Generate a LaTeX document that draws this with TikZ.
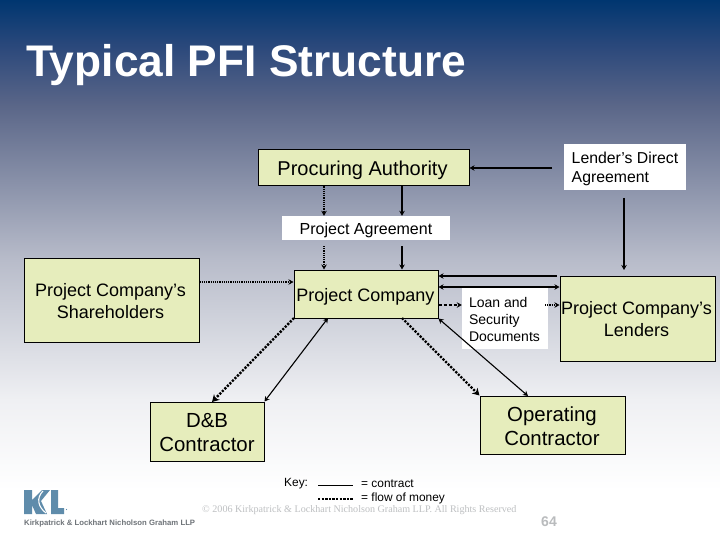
\documentclass[tikz,border=0pt]{standalone}
\usepackage{fontspec}
\setmainfont{Liberation Sans}
\newfontfamily\serifcopy{Liberation Serif}
\usetikzlibrary{arrows.meta}
\definecolor{boxfill}{HTML}{E6EDBC}
\definecolor{logoblue}{HTML}{5F8CAB}
\definecolor{logotext}{HTML}{6E7378}
\definecolor{copygray}{HTML}{BEC0C2}
\definecolor{numgray}{HTML}{B9BBBD}
\definecolor{bga}{HTML}{003670}
\definecolor{bgb}{HTML}{2E4A7C}
\definecolor{bgc}{HTML}{5A6688}
\definecolor{bgd}{HTML}{B8BCCA}
\definecolor{bge}{HTML}{EFF0F3}
\pgfdeclareverticalshading{slidebg}{100bp}{
  color(0bp)=(white);
  color(25bp)=(white);
  color(29.63bp)=(white);
  color(37.96bp)=(bge);
  color(50.93bp)=(bgd);
  color(65.28bp)=(bgc);
  color(70.37bp)=(bgb);
  color(75bp)=(bga);
  color(100bp)=(bga)}
\tikzset{
  x=1pt,y=-1pt,
  greenbox/.style={draw=black,line width=1pt,fill=boxfill,inner sep=0pt},
  whitebox/.style={fill=white,inner sep=0pt},
  boxtext/.style={inner sep=0pt,yshift=-2pt,align=center},
  contractline/.style={draw=black,line width=1.4pt,-{Stealth[length=5pt,width=5.5pt]}},
  contractboth/.style={draw=black,line width=1.1pt,{Stealth[length=5pt,width=5.5pt]}-{Stealth[length=5pt,width=5.5pt]}},
  moneyline/.style={draw=black,line width=1.2pt,densely dotted,-{Stealth[length=5pt,width=5.5pt]}},
  moneybold/.style={draw=black,line width=2.4pt,dash pattern=on 2.2pt off 1.4pt,-{Stealth[length=7pt,width=8pt]}},
  keytext/.style={inner sep=0pt,anchor=west,font=\fontsize{11.9}{13}\selectfont}
}
\begin{document}
\begin{tikzpicture}
\useasboundingbox (0,0) rectangle (720,540);
\shade[shading=slidebg] (0,0) rectangle (720,540);
% title
\node[anchor=base west,inner sep=0pt,text=white,font=\fontsize{44.3}{50}\selectfont\bfseries] (title) at (26,77) {Typical PFI Structure};
% boxes
\node[greenbox,minimum width=211pt,minimum height=36pt] (pa) at (363.5,168) {};
\node[boxtext,font=\fontsize{20}{22}\selectfont] (patext) at (362.5,168) {Procuring Authority};
\node[whitebox,minimum width=168pt,minimum height=24pt] (agr) at (366,228) {};
\node[boxtext,font=\fontsize{16}{18}\selectfont] (agrtext) at (366,228) {Project Agreement};
\node[whitebox,minimum width=122pt,minimum height=46pt] (lda) at (625,167) {};
\node[boxtext,align=left,font=\fontsize{15.8}{19}\selectfont] (ldatext) at (625,167) {Lender’s Direct\\Agreement};
\node[greenbox,minimum width=144pt,minimum height=48pt] (pc) at (366,294) {};
\node[boxtext,yshift=-1pt,font=\fontsize{18}{22}\selectfont] (pctext) at (365.5,294) {Project Company};
\node[greenbox,minimum width=175pt,minimum height=84pt] (sh) at (111.5,300) {};
\node[boxtext,yshift=1pt,font=\fontsize{18}{22}\selectfont] (shtext) at (110.5,300) {Project Company’s\\Shareholders};
\node[greenbox,minimum width=155pt,minimum height=85pt] (lend) at (637.5,318.5) {};
\node[boxtext,yshift=1pt,font=\fontsize{18}{22}\selectfont] (lendtext) at (636.5,318.5) {Project Company’s\\Lenders};
\node[whitebox,minimum width=86pt,minimum height=61pt] (loan) at (505,318.5) {};
\node[boxtext,yshift=1pt,align=left,font=\fontsize{14}{17}\selectfont] (loantext) at (504.5,318.5) {Loan and\\Security\\Documents};
\node[greenbox,minimum width=114pt,minimum height=59pt] (db) at (207,431.5) {};
\node[boxtext,yshift=1pt,font=\fontsize{20.4}{24}\selectfont] (dbtext) at (207,431.5) {D\&B\\Contractor};
\node[greenbox,minimum width=145pt,minimum height=58pt] (op) at (552.5,425) {};
\node[boxtext,yshift=1pt,font=\fontsize{20.4}{24}\selectfont] (optext) at (552,425) {Operating\\Contractor};
% free ends
\coordinate (ldaL) at (552,168);
\coordinate (ldaD) at (624,198);
\coordinate (lendT) at (624,270);
\coordinate (a1) at (324,246);
\coordinate (a2) at (402,246);
\coordinate (l1) at (557,276);
% connectors
\draw[contractline] (ldaL) -- (pa.east |- ldaL);
\draw[contractline] (ldaD) -- (lendT);
\draw[moneyline] (pa.south -| a1) -- (agr.north -| a1);
\draw[moneyline] (a1) -- (pc.north -| a1);
\draw[contractline] (pa.south -| a2) -- (agr.north -| a2);
\draw[contractline] (a2) -- (pc.north -| a2);
\coordinate (y1) at (0,282);
\draw[moneyline] (sh.east |- y1) -- (pc.west |- y1);
\draw[contractline] (l1) -- (pc.east |- l1);
\coordinate (y2) at (0,287);
\draw[contractboth,line width=1.4pt] (pc.east |- y2) -- (lend.west |- y2);
\coordinate (y3) at (0,305);
\draw[draw=black,line width=1.3pt,dash pattern=on 3pt off 2pt,-{Stealth[length=5pt,width=5.5pt]}] (pc.east |- y3) -- (loan.west |- y3);
\coordinate (y4) at (545,305);
\draw[moneyline] (y4) -- (lend.west |- y4);
\coordinate (c1) at (294,318);
\coordinate (c2) at (212,402);
\draw[moneybold] (c1) -- (c2);
\coordinate (c3) at (328,318);
\draw[contractboth] (c3) -- (db.north east);
\coordinate (c4) at (402,318);
\draw[moneybold] (c4) -- (op.north west);
\coordinate (c5) at (528,396);
\draw[contractboth] (pc.south east) -- (c5);
% key
\node[inner sep=0pt,anchor=west,font=\fontsize{11.9}{13}\selectfont] (keyl) at (284,484) {Key:};
\coordinate (k1) at (318,485);
\coordinate (k2) at (353,485);
\coordinate (k3) at (318,499);
\coordinate (k4) at (353,499);
\draw[line width=.9pt] (k1) -- (k2);
\draw[line width=1.4pt,dash pattern=on 2.4pt off 1.2pt] (k3) -- (k4);
\node[keytext] (kc) at (361,484) {= contract};
\node[keytext] (kf) at (361,498) {= flow of money};
% footer
\node[inner sep=0pt,anchor=west,text=copygray,font=\serifcopy\fontsize{10.1}{12}\selectfont] (copy) at (202,510) {© 2006 Kirkpatrick \& Lockhart Nicholson Graham LLP.  All Rights Reserved};
\node[inner sep=0pt,text=numgray,font=\fontsize{14}{16}\selectfont\bfseries] (num) at (549,522) {64};
% logo
\fill[logoblue] (24,490) -- (32,490) -- (32,500) -- (42,490) -- (50,490) -- (41,501) -- (47,514) -- (36,514) -- (32,505) -- (32,514) -- (24,514) -- cycle;
\fill[logoblue] (51,490) -- (58,490) -- (58,508) -- (64,508) -- (64,514) -- (51,514) -- cycle;
\draw[white,line width=1.1pt] (43,491) .. controls (36,498) and (38,507) .. (46,513);
\fill[logoblue] (66.5,509.5) circle (.6pt);
\node[inner sep=0pt,anchor=west,text=logotext,font=\fontsize{7.75}{10}\selectfont\bfseries] (logot) at (24,523) {Kirkpatrick \& Lockhart Nicholson Graham LLP};
\end{tikzpicture}
\end{document}
